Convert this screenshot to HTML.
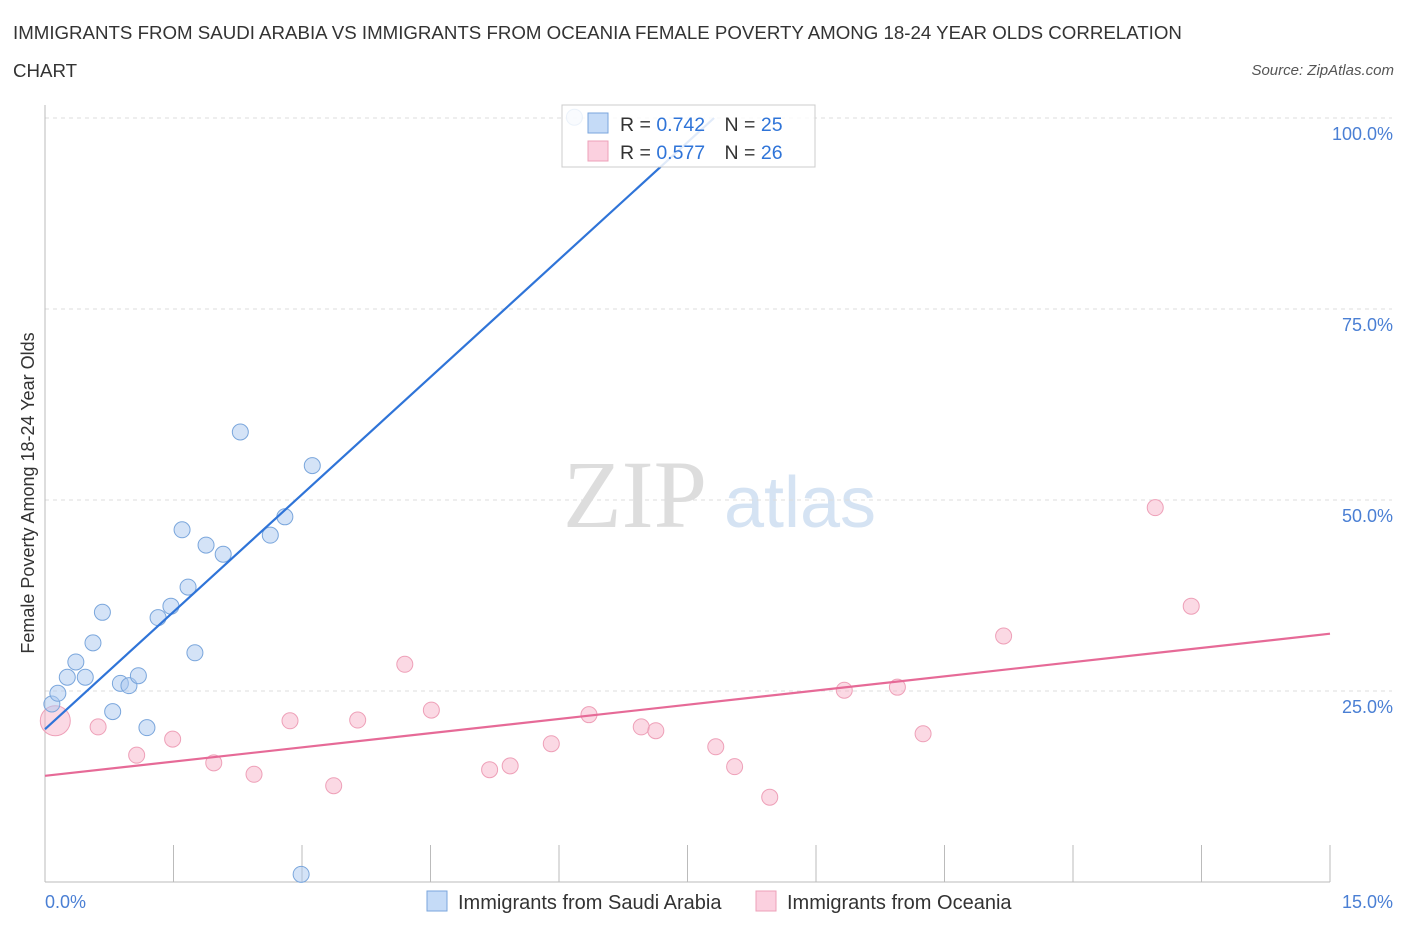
<!DOCTYPE html>
<html><head><meta charset="utf-8">
<style>
body{margin:0;background:#fff;font-family:"Liberation Sans",sans-serif;}
#wrap{position:relative;width:1406px;height:930px;overflow:hidden;}
.t{position:absolute;white-space:nowrap;}
</style></head>
<body>
<div id="wrap">
<div class="t" style="left:13px;top:14px;font-size:18.7px;color:#333;line-height:38px;">IMMIGRANTS FROM SAUDI ARABIA VS IMMIGRANTS FROM OCEANIA FEMALE POVERTY AMONG 18-24 YEAR OLDS CORRELATION<br>CHART</div>
<div class="t" style="right:12px;top:62px;font-size:15px;font-style:italic;color:#555;">Source: ZipAtlas.com</div>
<svg id="svg" width="1406" height="930" style="position:absolute;left:0;top:0"></svg>
</div>
<script>
const blueX=[6.18,0.08,0.15,0.26,0.36,0.47,0.56,0.67,0.79,0.88,0.98,1.09,1.19,1.32,1.47,1.60,1.67,1.75,1.88,2.08,2.28,2.63,2.80,2.99,3.12];
const blueY=[100.1,23.3,24.7,26.8,28.8,26.8,31.3,35.3,22.3,26.0,25.7,27.0,20.2,34.6,36.1,46.1,38.6,30.0,44.1,42.9,58.9,45.4,47.8,1.0,54.5];
const pinkX=[0.12,0.62,1.07,1.49,1.97,2.44,2.86,3.37,3.65,4.20,4.51,5.19,5.43,5.91,6.35,6.96,7.13,7.83,8.05,8.46,9.33,9.95,10.25,11.19,12.96,13.38];
const pinkY=[21.1,20.3,16.6,18.7,15.6,14.1,21.1,12.6,21.2,28.5,22.5,14.7,15.2,18.1,21.9,20.3,19.8,17.7,15.1,11.1,25.1,25.5,19.4,32.2,49.0,36.1];
const blueTrend=[[0,20.0],[7.81,100]];
const pinkTrend=[[0,13.9],[15,32.5]];
const yTicks=[25,50,75,100];
const yTickLabels=["25.0%","50.0%","75.0%","100.0%"];
const xTicks=[0,1.5,3,4.5,6,7.5,9,10.5,12,13.5,15];

const X=v=>45+v/15*1285, Y=v=>882-v/100*764;
const svg=document.getElementById('svg');const NS='http://www.w3.org/2000/svg';
function mk(tag,attrs,parent){const e=document.createElementNS(NS,tag);for(const k in attrs)e.setAttribute(k,attrs[k]);(parent||svg).appendChild(e);return e;}
let w=mk('text',{x:635,y:527,'font-size':96,'font-family':'Liberation Serif',fill:'#ddd','text-anchor':'middle'});w.textContent='ZIP';


let w2=mk('text',{x:800,y:527,'font-size':72,'font-family':'Liberation Sans',fill:'#d5e3f3','text-anchor':'middle'});w2.textContent='atlas';


yTicks.forEach((v,i)=>{
 let g=mk('line',{x1:45,x2:1392,y1:Y(v),y2:Y(v),stroke:'#ddd','stroke-dasharray':'4,4'});
 
 
 let t=mk('text',{x:1393,y:Y(v)+22,'font-size':18,fill:'#4a7fd4','text-anchor':'end'});t.textContent=yTickLabels[i];
 
 
});
let ya=mk('line',{x1:45,x2:45,y1:105,y2:882,stroke:'#bbb'});


let xa=mk('line',{x1:45,x2:1330,y1:882,y2:882,stroke:'#bbb'});


xTicks.forEach(v=>{let t=mk('line',{x1:X(v),x2:X(v),y1:845,y2:882,stroke:'#bbb'});
 
 });
[['0.0%',45,'start'],['15.0%',1393,'end']].forEach(a=>{let t=mk('text',{x:a[1],y:908,'font-size':18,fill:'#4a7fd4','text-anchor':a[2]});t.textContent=a[0];
 
 });
let yt=mk('text',{x:34,y:493,'font-size':18,fill:'#333','text-anchor':'middle',transform:'rotate(-90 34 493)'});yt.textContent='Female Poverty Among 18-24 Year Olds';


pinkX.forEach((x,i)=>{let c=mk('circle',{cx:X(x),cy:Y(pinkY[i]),r:i==0?15:8,fill:'rgba(246,170,196,0.45)',stroke:'#eea0b8','stroke-width':1});
 
 });
blueX.forEach((x,i)=>{let c=mk('circle',{cx:X(x),cy:Y(blueY[i]),r:8,fill:'rgba(170,200,240,0.5)',stroke:'#7aa6dc','stroke-width':1});
 
 });
let bl=mk('line',{x1:X(blueTrend[0][0]),y1:Y(blueTrend[0][1]),x2:X(blueTrend[1][0]),y2:Y(blueTrend[1][1]),stroke:'#2f74d8','stroke-width':2.2});


let pl=mk('line',{x1:X(pinkTrend[0][0]),y1:Y(pinkTrend[0][1]),x2:X(pinkTrend[1][0]),y2:Y(pinkTrend[1][1]),stroke:'#e66a97','stroke-width':2.2});


let lb=mk('rect',{x:562,y:105,width:253,height:62,fill:'rgba(255,255,255,0.85)',stroke:'#ccc'});


[['#c5dbf7','#7aa6dc','0.742','25',123],['#fbd0df','#eea0b8','0.577','26',151]].forEach(r=>{
 let s=mk('rect',{x:588,y:r[4]-10,width:20,height:20,fill:r[0],stroke:r[1]});
 
 
 let t=mk('text',{x:620,y:r[4]+8,'font-size':19.5,fill:'#333'});
 t.innerHTML='R = <tspan fill="#2f74d8">'+r[2]+'</tspan>   <tspan dx="14">N = </tspan><tspan fill="#2f74d8">'+r[3]+'</tspan>';
 t.setAttribute('xml:space','preserve');
 
 
});
[['#c5dbf7','#7aa6dc','Immigrants from Saudi Arabia',427],['#fbd0df','#eea0b8','Immigrants from Oceania',756]].forEach(r=>{
 let s=mk('rect',{x:r[3],y:891,width:20,height:20,fill:r[0],stroke:r[1]});
 
 
 let t=mk('text',{x:r[3]+31,y:909,'font-size':20,fill:'#333'});t.textContent=r[2];
 
 
});
</script>
</body></html>
